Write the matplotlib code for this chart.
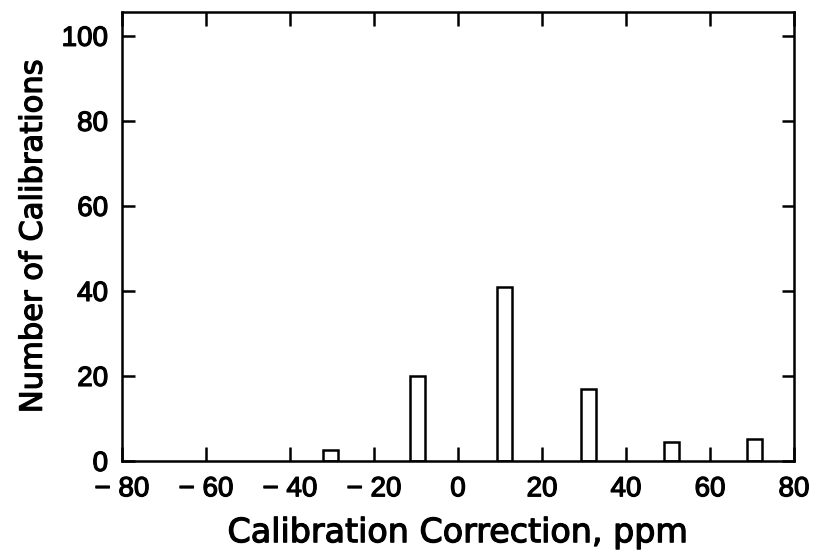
import matplotlib
matplotlib.use("Agg")
import matplotlib.pyplot as plt
import matplotlib.patheffects as pe

corrections = [-30.3, -9.6, 11.0, 31.0, 50.8, 70.5]
counts = [2.5, 20, 41, 17, 4.5, 5.2]
xticks = [-80, -60, -40, -20, 0, 20, 40, 60, 80]
xticklabels = ["\u2212 80", "\u2212 60", "\u2212 40", "\u2212 20", "0", "20", "40", "60", "80"]
yticks = [0, 20, 40, 60, 80, 100]

plt.rcParams['font.family'] = ['Liberation Sans', 'DejaVu Sans']
heavy = [pe.withStroke(linewidth=0.9, foreground='black')]

fig = plt.figure(figsize=(8.26, 5.54), dpi=100)
ax = fig.add_axes([0.1477, 0.1679, 0.9613 - 0.1477, 0.9783 - 0.1679])
ax.bar(corrections, counts, width=3.6, facecolor='white', edgecolor='black', linewidth=1.8)
ax.set_xlim(-80, 80)
ax.set_ylim(0, 105.6)
ax.set_xticks(xticks)
ax.set_xticklabels(xticklabels)
ax.set_yticks(yticks)
for s in ax.spines.values():
    s.set_linewidth(1.8)
ax.tick_params(direction='in', length=10, width=1.8, labelsize=20, top=True, right=True, pad=11)
ax.tick_params(axis='y', pad=10, length=9)
ax.set_xlabel("Calibration Correction, ppm", fontsize=24, family='DejaVu Sans', labelpad=10)
ax.set_ylabel("Number of Calibrations", fontsize=22, family='DejaVu Sans', labelpad=10)
for t in ax.get_xticklabels() + ax.get_yticklabels() + [ax.xaxis.label, ax.yaxis.label]:
    t.set_path_effects(heavy)
fig.savefig("out.png", dpi=100)
